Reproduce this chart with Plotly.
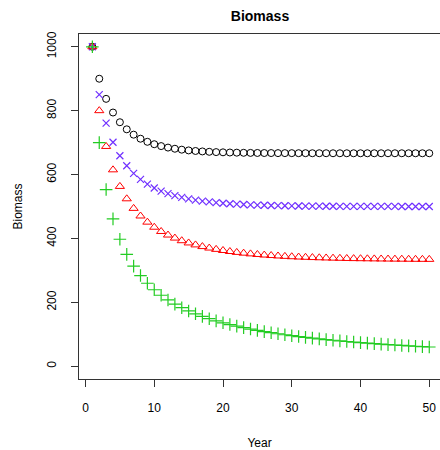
import plotly.graph_objects as go

years = list(range(1, 51))

f010 = [1000, 900, 837.0, 794.2, 763.8, 741.6, 724.9, 712.2, 702.5, 695.0,
        689.1, 684.4, 680.8, 677.9, 675.6, 673.8, 672.4, 671.2, 670.3, 669.6,
        669.0, 668.5, 668.1, 667.8, 667.6, 667.4, 667.3, 667.1, 667.1, 667.0,
        666.9, 666.9, 666.8, 666.8, 666.8, 666.7, 666.7, 666.7, 666.7, 666.7,
        666.7, 666.7, 666.7, 666.7, 666.7, 666.7, 666.7, 666.7, 666.7, 666.7]

f015 = [1000, 850, 760.8, 701.2, 658.9, 627.5, 603.5, 584.8, 569.9, 557.9,
        548.2, 540.3, 533.8, 528.4, 523.9, 520.1, 517.0, 514.3, 512.1, 510.3,
        508.7, 507.4, 506.2, 505.3, 504.5, 503.8, 503.2, 502.8, 502.3, 502.0,
        501.7, 501.4, 501.2, 501.0, 500.9, 500.7, 500.6, 500.5, 500.5, 500.4,
        500.3, 500.3, 500.2, 500.2, 500.2, 500.1, 500.1, 500.1, 500.1, 500.1]

f020 = [1000, 800, 688.0, 614.8, 562.9, 524.1, 494.1, 470.3, 451.0, 435.1,
        421.8, 410.6, 401.1, 392.9, 385.9, 379.8, 374.5, 369.9, 365.8, 362.3,
        359.1, 356.3, 353.9, 351.7, 349.8, 348.0, 346.5, 345.1, 343.9, 342.8,
        341.8, 341.0, 340.2, 339.5, 338.9, 338.3, 337.8, 337.3, 336.9, 336.6,
        336.3, 336.0, 335.7, 335.5, 335.2, 335.1, 334.9, 334.7, 334.6, 334.5]

f030 = [1000, 700, 553.0, 461.3, 397.4, 350.0, 313.3, 283.8, 259.7, 239.4,
        222.2, 207.4, 194.5, 183.2, 173.1, 164.1, 156.0, 148.7, 142.1, 136.0,
        130.5, 125.4, 120.7, 116.3, 112.2, 108.4, 104.9, 101.6, 98.5, 95.6,
        92.9, 90.3, 87.8, 85.5, 83.3, 81.3, 79.3, 77.4, 75.6, 73.9,
        72.2, 70.7, 69.2, 67.7, 66.4, 65.0, 63.8, 62.5, 61.4, 60.2]

x_ticks = [0, 10, 20, 30, 40, 50]
y_ticks = [0, 200, 400, 600, 800, 1000]

series = [
    (f010, "circle-open", "#000000", 7, 1.0),
    (f015, "x-thin-open", "#7030FF", 7, 1.2),
    (f020, "triangle-up-open", "#FF0000", 8, 1.0),
    (f030, "cross-thin-open", "#22CC22", 9, 1.2),
]

fig = go.Figure()
for vals, sym, col, sz, lw in series:
    fig.add_trace(go.Scatter(
        x=years, y=vals, mode="markers",
        marker=dict(symbol=sym, size=sz, color=col, line=dict(color=col, width=lw)),
        showlegend=False,
    ))

font = "Liberation Sans, Arial, Helvetica, sans-serif"
W, H = 440, 450
fig.update_layout(
    width=W, height=H,
    margin=dict(l=79, r=0, t=34, b=71, pad=0),
    paper_bgcolor="white", plot_bgcolor="white",
    font=dict(family=font, size=12, color="black"),
    title=dict(text="<b>Biomass</b>", x=260 / W, xref="container",
               y=1 - 16 / H, yref="container",
               yanchor="middle", xanchor="center",
               font=dict(size=14, family=font, color="black")),
    xaxis=dict(range=[-0.945, 51.56], tickvals=x_ticks,
               showgrid=False, zeroline=False, showline=True, mirror=True,
               linecolor="#333", linewidth=1, ticks="outside", ticklen=7,
               tickcolor="#333", tickfont=dict(size=12), ticklabelstandoff=11,
               title=dict(text="Year", standoff=25, font=dict(size=12))),
    yaxis=dict(range=[-40, 1040], tickvals=y_ticks,
               showgrid=False, zeroline=False, showline=True, mirror=True,
               linecolor="#333", linewidth=1, ticks="outside", ticklen=7,
               tickcolor="#333", tickangle=-90, tickfont=dict(size=12),
               ticklabelstandoff=10,
               title=dict(text="Biomass", standoff=20, font=dict(size=12))),
)

fig.write_html(
    "out.html",
    config={"displayModeBar": False},
    post_script="document.body.style.margin='0';document.body.style.overflow='hidden';",
)
